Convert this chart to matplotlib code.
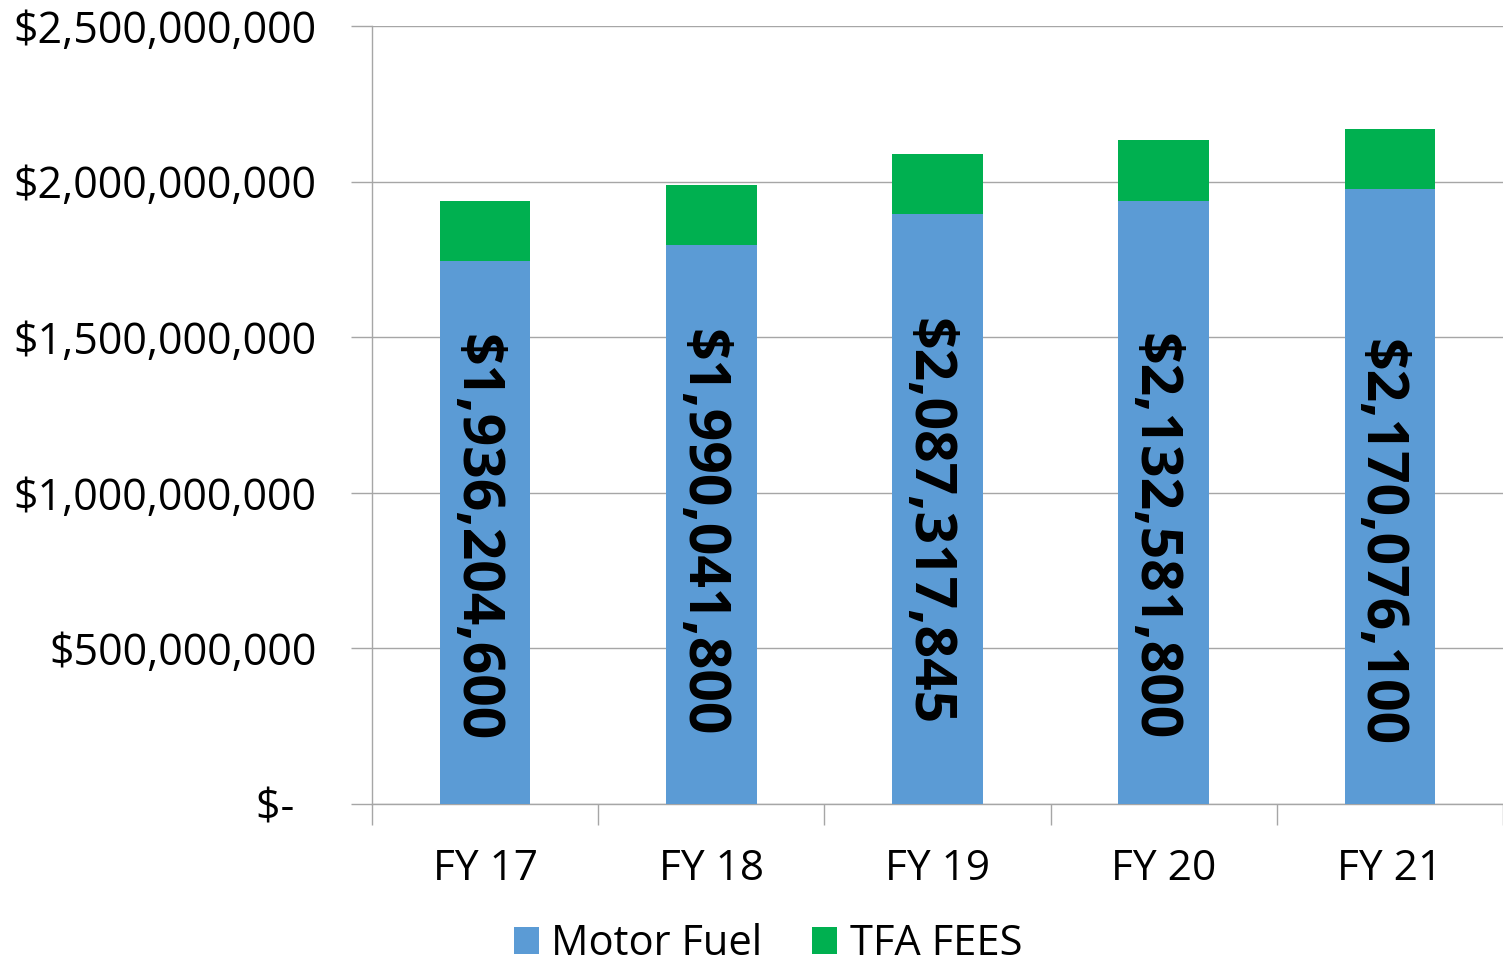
import matplotlib
matplotlib.use("Agg")
import matplotlib.pyplot as plt
from matplotlib.ticker import FixedLocator
from matplotlib.transforms import offset_copy

categories = ["FY 17", "FY 18", "FY 19", "FY 20", "FY 21"]
motor_fuel = [1_745_000_000, 1_796_000_000, 1_896_000_000, 1_938_000_000, 1_976_000_000]
totals = [1_936_204_600, 1_990_041_800, 2_087_317_845, 2_132_581_800, 2_170_076_100]
tfa_fees = [t - m for t, m in zip(totals, motor_fuel)]
ytick_values = [0, 500_000_000, 1_000_000_000, 1_500_000_000, 2_000_000_000, 2_500_000_000]
ytick_labels = ["$-  ", "$500,000,000", "$1,000,000,000", "$1,500,000,000",
                "$2,000,000,000", "$2,500,000,000"]
label_centers = [0.855e9, 0.871e9, 0.906e9, 0.858e9, 0.839e9]

BLUE = "#5B9BD5"
GREEN = "#00B050"
FONT = "Open Sans"

fig = plt.figure(figsize=(15.03, 9.66), dpi=100)
ax = fig.add_axes([372/1503, 1 - 804/966, 1 - 372/1503, (804 - 26)/966])

x = list(range(len(categories)))
ax.bar(x, motor_fuel, width=0.4, color=BLUE, label="Motor Fuel", zorder=3)
ax.bar(x, tfa_fees, width=0.4, bottom=motor_fuel, color=GREEN, label="TFA FEES", zorder=3)

label_tr = offset_copy(ax.transData, fig=fig, x=-10, y=0, units="dots")
for xi, tot, yc in zip(x, totals, label_centers):
    ax.text(xi, yc, f"${tot:,.0f}", rotation=-90, ha="center", va="center",
            fontsize=41, fontweight="bold", family=FONT, color="black", zorder=4,
            transform=label_tr)

ax.set_xlim(-0.5, len(categories) - 0.5)
ax.set_ylim(0, 2.5e9)
ax.set_yticks(ytick_values)
ax.set_yticklabels(ytick_labels, family=FONT, fontsize=31)
ax.set_xticks(x)
ax.set_xticklabels(categories, family=FONT, fontsize=30.5)
ax.xaxis.set_minor_locator(FixedLocator([i - 0.5 for i in range(len(categories) + 1)]))
ax.tick_params(axis="x", which="major", length=0, pad=32)
ax.tick_params(axis="x", which="minor", length=15, width=1, color="#A6A6A6")
ax.tick_params(axis="y", length=15, width=1, color="#A6A6A6", pad=25)

ax.grid(axis="y", color="#A6A6A6", linewidth=1, zorder=0)
for side in ["top", "right"]:
    ax.spines[side].set_visible(False)
for side in ["left", "bottom"]:
    ax.spines[side].set_color("#A6A6A6")
    ax.spines[side].set_linewidth(1)

leg = fig.legend(loc="center", bbox_to_anchor=(0.511, 1 - 944/966), ncol=2, frameon=False,
                 prop={"family": FONT, "size": 30}, handlelength=0.6, handleheight=0.6,
                 handletextpad=0.3, columnspacing=1.2, borderpad=0)

fig.savefig("out.png", dpi=100)
